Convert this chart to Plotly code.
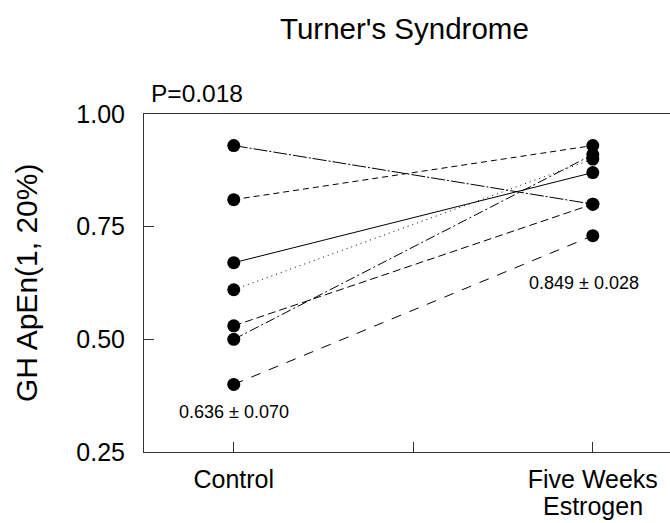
import plotly.graph_objects as go

# Data
x_positions = [1, 3]
tick_vals = [1, 2, 3]
tick_text = ["Control", "", "Five Weeks"]
tick_second_line = "Estrogen"
control = [0.93, 0.81, 0.67, 0.61, 0.53, 0.50, 0.40]
estrogen = [0.80, 0.93, 0.87, 0.90, 0.80, 0.91, 0.73]
dashes = ["14px,2px,2px,2px", "6px,4px", "solid", "1px,4px", "8px,4px", "10px,3px,2px,3px", "10px,9px"]
y_ticks = [0.25, 0.50, 0.75, 1.00]
mean_control = "0.636 ± 0.070"
mean_estrogen = "0.849 ± 0.028"
p_text = "P=0.018"
title_text = "Turner's Syndrome"
y_title = "GH ApEn(1, 20%)"

FONT = "Liberation Sans, Arial, Helvetica, sans-serif"

fig = go.Figure()
for c, e, d in zip(control, estrogen, dashes):
    fig.add_trace(go.Scatter(
        x=x_positions, y=[c, e], mode="lines+markers",
        line=dict(color="black", width=1, dash=d),
        marker=dict(color="black", size=13),
        showlegend=False, hoverinfo="skip", cliponaxis=False))

fig.update_layout(
    width=670, height=523,
    margin=dict(l=144, r=0, t=114, b=71),
    paper_bgcolor="white", plot_bgcolor="white",
    font=dict(family=FONT, color="black"),
    showlegend=False,
    xaxis=dict(range=[0.5, 3.43], tickvals=tick_vals, ticktext=tick_text,
               ticks="inside", ticklen=10, tickwidth=1, tickcolor="#333",
               showline=True, linecolor="#333", linewidth=1, mirror=True,
               showgrid=False, zeroline=False, tickfont=dict(size=25),
               ticklabelstandoff=5, automargin=False),
    yaxis=dict(range=[0.25, 1.0], tickvals=y_ticks, tickformat=".2f",
               ticks="inside", ticklen=10, tickwidth=1, tickcolor="#333",
               showline=True, linecolor="#333", linewidth=1,
               showgrid=False, zeroline=False, tickfont=dict(size=25),
               ticklabelstandoff=13, automargin=False),
    annotations=[
        dict(text=title_text, xref="paper", yref="paper",
             x=(404 - 144) / 526, y=(452 - 28) / 338, xanchor="center", yanchor="middle",
             showarrow=False, font=dict(size=29.5)),
        dict(text=p_text, xref="paper", yref="paper",
             x=(149 - 144) / 526, y=(452 - 93) / 338, xanchor="left", yanchor="middle",
             showarrow=False, font=dict(size=24.5)),
        dict(text=y_title, xref="paper", yref="paper", textangle=-90,
             x=(26 - 144) / 526, y=0.5, xanchor="center", yanchor="middle",
             showarrow=False, font=dict(size=30)),
        dict(text=tick_second_line, xref="x", yref="paper", x=tick_vals[2],
             y=(452 - 506) / 338, xanchor="center", yanchor="middle",
             showarrow=False, font=dict(size=25)),
        dict(text=mean_control, xref="x", yref="y", x=1, y=1 - (412 - 114) / 450.7,
             xanchor="center", yanchor="middle", showarrow=False, font=dict(size=18)),
        dict(text=mean_estrogen, xref="x", yref="y", x=3 - 0.05, y=1 - (283 - 114) / 450.7,
             xanchor="center", yanchor="middle", showarrow=False, font=dict(size=18)),
    ],
)

fig.write_html("out.html")
